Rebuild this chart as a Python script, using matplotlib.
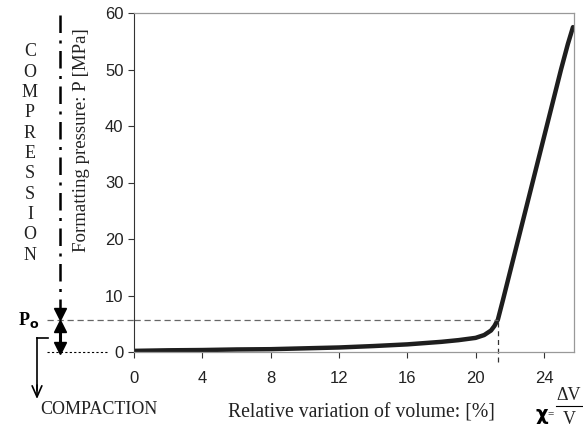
import numpy as np
import matplotlib
matplotlib.use("Agg")
import matplotlib.pyplot as plt
from matplotlib.lines import Line2D

# data
volume_pct = [0, 2, 4, 6, 8, 10, 12, 14, 16, 18, 19, 20, 20.5, 20.9, 21.1, 21.3,
              21.6, 22, 22.5, 23, 23.5, 24, 24.5, 25, 25.4, 25.7]
pressure = [0.2, 0.3, 0.35, 0.45, 0.5, 0.65, 0.8, 1.05, 1.35, 1.8, 2.1, 2.5, 3.0,
            3.8, 4.6, 5.7, 9.2, 14, 20, 26, 32, 38, 44, 50, 54.5, 57.5]
x_ticks = [0, 4, 8, 12, 16, 20, 24]
y_ticks = [0, 10, 20, 30, 40, 50, 60]
p0 = 5.7      # transition pressure
x0 = 21.3     # volume at transition

W, H = 583, 437
fig = plt.figure(figsize=(W / 100, H / 100), dpi=100)
serif = "Liberation Serif"
sans = "Liberation Sans"


def fx(px):
    return px / W


def fy(py):
    return 1 - py / H


ax = fig.add_axes([fx(134), fy(352), fx(440), 339 / H])
ax.plot(volume_pct, pressure, color="#1e1e1e", lw=3.2, solid_capstyle="round")
ax.set_xlim(0, 25.76)
ax.set_ylim(0, 60)
ax.set_xticks(x_ticks)
ax.set_yticks(y_ticks)
ax.tick_params(labelsize=12, length=4.5, color="#333333", width=0.8)
ax.tick_params(axis="x", pad=9)
ax.tick_params(axis="y", pad=3)
for lab in ax.get_xticklabels() + ax.get_yticklabels():
    lab.set_fontfamily(sans)
    lab.set_color("#222222")
for s in ["top", "right", "bottom"]:
    ax.spines[s].set_color("#999999")
    ax.spines[s].set_linewidth(0.9)
ax.spines["left"].set_color("#333333")

fig.text(fx(81), fy(140), "Formatting pressure: P [MPa]", fontfamily=serif,
         fontsize=13.6, rotation=90, ha="center", va="center", color="#222222")

# dashed guides at P0
ytr = ax.get_yaxis_transform()
ax.plot([-0.198, 0], [p0, p0], transform=ytr, color="#666666", lw=0.9,
        ls=(0, (5, 3)), clip_on=False)
ax.plot([0, x0], [p0, p0], color="#666666", lw=0.9, ls=(0, (5, 3)))
ax.plot([x0, x0], [-1.8, p0], color="#333333", lw=0.9, ls=(0, (4, 3)), clip_on=False)
ax.plot([-0.198, -0.061], [0, 0], transform=ytr, color="black", lw=0.8,
        ls=(0, (2, 2)), clip_on=False)

# compression arrow (dash-dot) and the double arrow under P0
ax_x = (60 - 134) / 440
head = 1.1   # half a triangle, in MPa units of the y axis
ax.plot([ax_x, ax_x], [59.6, p0 + head], transform=ytr, color="black", lw=1.8,
        ls=(0, (7, 3, 1.2, 3)), clip_on=False)
ax.plot([ax_x, ax_x], [p0 - head, 0.7], transform=ytr, color="black", lw=2.2,
        clip_on=False)
ax.plot([ax_x, ax_x], [p0 + head, 0.7], transform=ytr, color="black", ls="none",
        marker="v", ms=9, clip_on=False)
ax.plot([ax_x], [p0 - head], transform=ytr, color="black", ls="none",
        marker="^", ms=9, clip_on=False)

# COMPRESSION letters
word = "COMPRESSION"
for i, ch in enumerate(word):
    fig.text(fx(30), fy(52 + i * 20.3), ch, fontfamily=serif, fontsize=13,
             ha="center", va="center", color="#222222")

fig.text(fx(29), fy(320), r"P$_\mathbf{o}$", fontfamily=serif, fontsize=13,
         fontweight="bold", ha="center", va="center")

# compaction bracket arrow
fig.add_artist(Line2D([fx(48), fx(37)], [fy(338), fy(338)], color="black", lw=1.2))
fig.add_artist(Line2D([fx(37), fx(37)], [fy(338), fy(390)], color="black", lw=1.2))
ax.annotate("", xy=(fx(37), fy(399)), xytext=(fx(37), fy(385)),
            xycoords="figure fraction", textcoords="figure fraction",
            arrowprops=dict(arrowstyle="->,head_width=0.35,head_length=0.8",
                            color="black", lw=1.2, shrinkA=0, shrinkB=0),
            annotation_clip=False)
fig.text(fx(40), fy(409), "COMPACTION", fontfamily=serif, fontsize=13,
         ha="left", va="center", color="#222222")

# x label and chi = dV / V
fig.text(fx(361), fy(413), "Relative variation of volume: [%]", fontfamily=serif,
         fontsize=14.2, ha="center", va="center", color="#222222")
fig.text(fx(542), fy(414), "χ", fontfamily="DejaVu Sans", fontsize=14,
         fontweight="bold", ha="center", va="center")
fig.text(fx(551), fy(414), "=", fontfamily=serif, fontsize=8, ha="center",
         va="center")
fig.add_artist(Line2D([fx(556), fx(582)], [fy(406), fy(406)], color="black", lw=0.8))
fig.text(fx(569), fy(396), "ΔV", fontfamily=serif, fontsize=13, ha="center",
         va="center", color="#222222")
fig.text(fx(569), fy(420), "V", fontfamily=serif, fontsize=13, ha="center",
         va="center", color="#222222")

fig.savefig("out.png", dpi=100)
